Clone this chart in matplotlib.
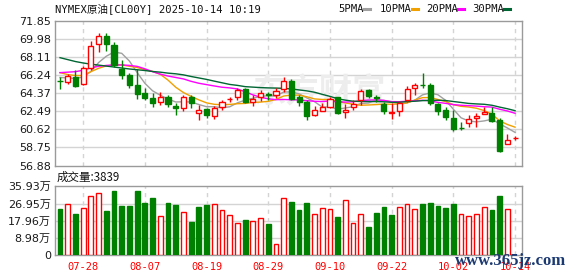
import numpy as np
import matplotlib
matplotlib.use("Agg")
import matplotlib.pyplot as plt
from matplotlib.lines import Line2D

# ---------------- data ----------------
dates = ["07-23", "07-24", "07-25", "07-28", "07-29", "07-30", "07-31",
         "08-01", "08-04", "08-05", "08-06", "08-07", "08-08", "08-11", "08-12",
         "08-13", "08-14", "08-15", "08-18", "08-19", "08-20", "08-21", "08-22",
         "08-25", "08-26", "08-27", "08-28", "08-29",
         "09-01", "09-02", "09-03", "09-04", "09-05", "09-08", "09-09", "09-10",
         "09-11", "09-12", "09-15", "09-16", "09-17", "09-18", "09-19", "09-22",
         "09-23", "09-24", "09-25", "09-26", "09-29", "09-30",
         "10-01", "10-02", "10-03", "10-06", "10-07", "10-08", "10-09", "10-10",
         "10-13", "10-14"]
labeled_dates = ["07-28", "08-07", "08-19", "08-29", "09-10", "09-22", "10-02", "10-14"]

opens = [65.65, 65.52, 66.05, 65.30, 67.03, 69.44, 70.30, 69.37, 66.89, 66.27,
         65.24, 64.40, 63.90, 63.50, 63.95, 63.07, 62.83, 63.97, 62.31, 62.73,
         62.00, 62.93, 63.72, 63.93, 64.80, 63.45, 63.97, 64.30, 64.14, 64.79,
         65.68, 63.93, 63.41, 62.10, 62.50, 62.90, 63.93, 62.38, 62.98, 63.62,
         64.65, 63.95, 63.24, 62.35, 62.48, 63.69, 64.90, 65.27, 65.24, 63.24,
         62.58, 61.80, 60.80, 61.28, 61.80, 62.25, 62.31, 61.55, 59.10, 59.70]
highs = [66.00, 66.34, 66.75, 67.15, 69.78, 70.61, 70.58, 69.65, 67.82, 66.45,
         66.90, 64.95, 64.38, 64.48, 64.20, 63.40, 64.20, 64.20, 63.17, 62.83,
         63.00, 63.62, 63.93, 64.90, 64.90, 64.20, 64.65, 64.53, 64.90, 66.10,
         65.85, 64.20, 63.69, 63.00, 63.40, 63.97, 64.00, 63.30, 63.69, 64.80,
         64.80, 64.20, 63.50, 63.40, 63.60, 65.13, 65.41, 66.45, 65.41, 63.35,
         62.93, 62.58, 61.37, 62.14, 62.31, 62.90, 62.90, 61.80, 60.14, 59.90]
lows = [64.80, 65.31, 65.06, 65.20, 66.79, 68.60, 68.70, 67.13, 65.85, 64.90,
        63.76, 63.70, 62.93, 63.15, 62.95, 62.10, 62.55, 62.83, 61.55, 61.80,
        61.70, 62.60, 63.50, 63.68, 63.35, 63.00, 63.55, 63.68, 63.87, 64.45,
        63.70, 63.00, 61.55, 61.96, 62.50, 62.84, 62.25, 61.80, 62.58, 63.10,
        63.90, 63.50, 62.25, 61.65, 61.96, 63.41, 64.20, 64.90, 63.17, 62.07,
        61.55, 60.41, 60.58, 60.87, 60.87, 62.20, 61.40, 58.24, 59.10, 59.56]
closes = [65.60, 66.14, 65.13, 66.96, 69.24, 70.25, 69.44, 67.30, 66.27, 65.24,
          64.31, 63.90, 63.40, 63.97, 63.25, 62.80, 63.97, 63.31, 62.66, 62.10,
          62.83, 63.41, 63.78, 64.72, 63.50, 63.80, 64.38, 64.14, 64.55, 65.65,
          63.76, 63.41, 62.04, 62.58, 62.90, 63.75, 62.31, 62.66, 63.24, 64.55,
          64.03, 63.85, 62.48, 62.40, 63.35, 64.79, 65.24, 65.20, 63.35, 62.48,
          61.86, 60.66, 60.74, 61.70, 62.04, 62.38, 61.50, 58.35, 59.56, 59.75]
prev_close = 65.70  # close of the session before the window

# volume in 万 (10k contracts)
volumes = [24.1, 26.6, 21.5, 24.5, 30.7, 32.3, 23.1, 33.5, 25.7, 25.7,
           33.5, 27.4, 29.8, 20.3, 27.2, 26.2, 22.4, 17.3, 25.2, 26.2,
           26.6, 23.6, 20.8, 16.7, 18.4, 17.9, 19.3, 16.3, 5.9, 29.7,
           27.9, 23.6, 27.4, 21.5, 24.5, 24.0, 19.9, 28.8, 16.7, 21.5,
           14.7, 22.2, 25.2, 21.0, 25.0, 26.7, 24.0, 26.7, 27.2, 25.7,
           24.6, 26.7, 21.5, 20.5, 21.5, 25.0, 23.6, 30.9, 24.0, 0.3839]
last_volume = "3839"

ma5 = [66.00, 65.95, 65.90, 66.05, 66.61, 67.54, 68.20, 68.64, 68.50, 67.70,
       66.51, 65.40, 64.62, 64.16, 63.77, 63.46, 63.48, 63.46, 63.20, 62.97,
       62.97, 62.86, 62.96, 63.37, 63.65, 63.84, 64.04, 64.11, 64.07, 64.50,
       64.50, 64.30, 63.88, 63.49, 62.94, 62.94, 62.72, 62.84, 62.97, 63.30,
       63.36, 63.67, 63.63, 63.46, 63.22, 63.37, 63.65, 64.20, 64.39, 64.21,
       63.63, 62.71, 61.82, 61.49, 61.40, 61.50, 61.67, 61.19, 60.77, 60.31]
ma10 = [66.50, 66.30, 66.20, 66.20, 66.60, 66.95, 67.20, 67.28, 67.30, 67.16,
        67.03, 66.80, 66.63, 66.33, 65.73, 64.99, 64.44, 64.04, 63.68, 63.37,
        63.22, 63.17, 63.21, 63.28, 63.31, 63.41, 63.45, 63.53, 63.72, 64.08,
        64.17, 64.17, 64.00, 63.78, 63.72, 63.72, 63.51, 63.36, 63.23, 63.12,
        63.15, 63.19, 63.24, 63.22, 63.26, 63.37, 63.66, 63.91, 63.92, 63.72,
        63.50, 63.18, 63.01, 62.94, 62.81, 62.57, 62.19, 61.51, 61.13, 60.85]
ma20 = [66.50, 66.55, 66.60, 66.75, 67.00, 67.15, 67.25, 67.30, 67.30, 67.25,
        67.15, 66.90, 66.60, 66.35, 66.15, 66.00, 65.85, 65.60, 65.40, 65.26,
        65.12, 64.99, 64.92, 64.81, 64.52, 64.20, 63.95, 63.79, 63.70, 63.72,
        63.69, 63.67, 63.60, 63.53, 63.51, 63.56, 63.48, 63.45, 63.48, 63.60,
        63.66, 63.68, 63.62, 63.50, 63.49, 63.54, 63.58, 63.64, 63.58, 63.42,
        63.32, 63.19, 63.12, 63.08, 63.03, 62.97, 62.93, 62.71, 62.53, 62.29]
ma30 = [68.05, 67.85, 67.65, 67.50, 67.38, 67.28, 67.18, 67.08, 66.98, 66.88,
        66.80, 66.72, 66.62, 66.55, 66.45, 66.38, 66.27, 66.10, 65.95, 65.80,
        65.62, 65.45, 65.28, 65.18, 65.05, 65.00, 64.95, 64.92, 64.90, 64.87,
        64.81, 64.71, 64.61, 64.47, 64.25, 64.04, 63.80, 63.65, 63.54, 63.52,
        63.51, 63.51, 63.48, 63.43, 63.43, 63.50, 63.54, 63.60, 63.63, 63.64,
        63.61, 63.51, 63.41, 63.31, 63.26, 63.22, 63.12, 62.93, 62.76, 62.56]

price_ticks = ["56.88", "58.75", "60.62", "62.49", "64.37", "66.24", "68.11", "69.98", "71.85"]
vol_ticks = ["0", "8.98万", "17.96万", "26.95万", "35.93万"]
title = "NYMEX原油[CL00Y] 2025-10-14 10:19"
legend_names = ["5PMA", "10PMA", "20PMA", "30PMA"]

# ---------------- style ----------------
RED = "#ff0000"
GREEN = "#008000"
MA_COLORS = ["#a0a0a0", "#f0a000", "#ff00ff", "#006633"]
GRID = "#d4d4d4"
SPINE = "#9a9a9a"
MONO = ["DejaVu Sans Mono", "Noto Sans CJK SC"]
SANS = ["DejaVu Sans", "Noto Sans CJK SC"]

W, H = 578, 276
fig = plt.figure(figsize=(W / 100, H / 100), dpi=100)
fig.patch.set_facecolor("white")

ax = fig.add_axes([55 / W, 1 - 165.5 / H, 467 / W, 144.5 / H])
axv = fig.add_axes([55 / W, 1 - 255.3 / H, 467 / W, 69 / H])

n = len(dates)
x = np.arange(n)
o = np.array(opens); c = np.array(closes); h = np.array(highs); l = np.array(lows)
xlim = (-0.65, n - 1 + 0.9)
tick_idx = [dates.index(d) for d in labeled_dates]

# ---------------- price panel ----------------
pmin, pmax = float(price_ticks[0]), float(price_ticks[-1])
ax.set_xlim(*xlim)
ax.set_ylim(pmin, pmax)
pticks = np.linspace(pmin, pmax, len(price_ticks))
ax.set_yticks(pticks)
ax.set_yticklabels(price_ticks, fontsize=8, color="#1a1a1a", family=SANS)
ax.set_xticks([])
ax.tick_params(axis="y", length=0, pad=3)
for yv in pticks[1:-1]:
    ax.axhline(yv, color=GRID, lw=1, zorder=0)
for t in tick_idx:
    ax.axvline(t, color=GRID, lw=1, ls=(0, (3, 3)), zorder=0)

ax.text(0.565, 0.50, "东方财富", transform=ax.transAxes, fontsize=24,
        family=["Noto Sans CJK SC"], fontweight="bold", color="#ededed",
        ha="center", va="center", zorder=0.5)

for ma, col in zip([ma5, ma10, ma20, ma30], MA_COLORS):
    ax.plot(x, ma, color=col, lw=1.0, zorder=2)

up = c >= o
body_lo = np.minimum(o, c)
body_hi = np.maximum(o, c)
cols = np.where(up, RED, GREEN)
ax.vlines(x, body_hi, h, colors=cols, lw=1.0, zorder=3)
ax.vlines(x, l, body_lo, colors=cols, lw=1.0, zorder=3)
ax.bar(x, body_hi - body_lo, bottom=body_lo, width=0.66,
       facecolor=np.where(up, "white", GREEN), edgecolor=cols, linewidth=1.0, zorder=4)

for s in ax.spines.values():
    s.set_color(SPINE); s.set_linewidth(1.0)

# ---------------- volume panel ----------------
vmax = float(vol_ticks[-1][:-1])
axv.set_xlim(*xlim)
axv.set_ylim(0, vmax)
vt = np.linspace(0, vmax, len(vol_ticks))
axv.set_yticks(vt)
axv.set_yticklabels(vol_ticks, fontsize=8, color="#1a1a1a", family=SANS)
axv.tick_params(axis="y", length=0, pad=3)
for yv in vt[1:-1]:
    axv.axhline(yv, color=GRID, lw=1, zorder=0)
for t in tick_idx:
    axv.axvline(t, color=GRID, lw=1, ls=(0, (3, 3)), zorder=0)
axv.set_xticks(tick_idx)
axv.set_xticklabels(labeled_dates, fontsize=7.5, color=RED, family=MONO)
axv.tick_params(axis="x", length=0, pad=4.5)

prev = np.concatenate([[prev_close], c[:-1]])
vup = c >= prev
vcols = np.where(vup, RED, GREEN)
axv.bar(x, volumes, width=0.62, facecolor=np.where(vup, "white", GREEN),
        edgecolor=vcols, linewidth=1.0, zorder=3)
for s in axv.spines.values():
    s.set_color(SPINE); s.set_linewidth(1.0)

# ---------------- texts ----------------
fig.text(55 / W, 1 - 9 / H, title, fontsize=7.6, family=MONO, color="#111111",
         ha="left", va="center")
fig.text(57 / W, 1 - 177.5 / H, "成交量:" + last_volume, fontsize=8.3,
         family=["Noto Sans CJK SC", "DejaVu Sans"], color="#111111",
         ha="left", va="center")

leg_x = [338, 380, 426, 472]
for name, col, lx in zip(legend_names, MA_COLORS, leg_x):
    t = fig.text(lx / W, 1 - 9 / H, name, fontsize=7.6, family=MONO,
                 color="#111111", ha="left", va="center")
    fig.canvas.draw() if False else None
    wpx = len(name) * 5.6
    x0 = lx + wpx + 4
    fig.add_artist(Line2D([x0 / W, (x0 + 6) / W], [1 - 9 / H, 1 - 9 / H],
                          transform=fig.transFigure, color=col, lw=2.2))

fig.text(455 / W, 1 - 261 / H, "www.365jz.com", fontsize=12,
         family=["Liberation Serif"], fontweight="bold", color="#1c3a72",
         ha="left", va="center")

fig.savefig("out.png", dpi=100, facecolor="white")
